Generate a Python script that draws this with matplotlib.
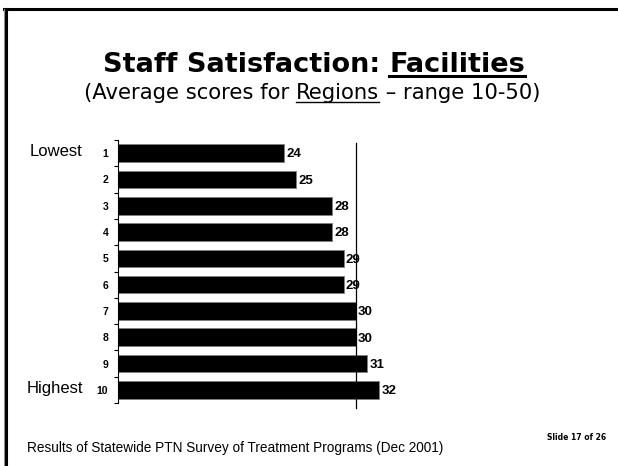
import matplotlib
matplotlib.use("Agg")
import matplotlib.pyplot as plt
from matplotlib.lines import Line2D
import numpy as np

# data
regions = ["1", "2", "3", "4", "5", "6", "7", "8", "9", "10"]
scores = [24, 25, 28, 28, 29, 29, 30, 30, 31, 32]
ref_score = 30
x_range = (10, 50)

W, H = 618, 466
fig = plt.figure(figsize=(W / 100, H / 100), dpi=100)

def fx(px):
    return px / W

def fy(py):
    return 1 - py / H

# slide frame (top and left edges)
fig.add_artist(Line2D([fx(4), 1], [fy(9), fy(9)], color="black", lw=2.2, transform=fig.transFigure))
fig.add_artist(Line2D([fx(5.5), fx(5.5)], [fy(9), 0], color="black", lw=2.2, transform=fig.transFigure))
fig.add_artist(Line2D([fx(3.8), fx(3.8)], [fy(9), 0], color="#909090", lw=0.8, transform=fig.transFigure))

renderer = fig.canvas.get_renderer()

def underlined(cx, base, parts, ul_off, ul_lw, **kw):
    # measure every piece, then lay them out left to right centred on cx
    widths = []
    for s, _ in parts:
        t = fig.text(0, 0, s, **kw)
        widths.append(t.get_window_extent(renderer).width)
        t.remove()
    x = cx - sum(widths) / 2
    for (s, ul), w in zip(parts, widths):
        fig.text(fx(x), fy(base), s, ha="left", va="baseline", **kw)
        if ul:
            fig.add_artist(Line2D([fx(x), fx(x + w)], [fy(base + ul_off)] * 2,
                                  color="black", lw=ul_lw, transform=fig.transFigure))
        x += w

underlined(314, 72, [("Staff Satisfaction: ", False), ("Facilities", True)],
           3.5, 2.2, fontsize=19.5, fontweight="bold", family="DejaVu Sans")
underlined(312, 99, [("(Average scores for ", False), ("Regions", True), (" \u2013 range 10-50)", False)],
           2.5, 1.0, fontsize=15.2, family="DejaVu Sans")

# bar chart
ax = fig.add_axes([fx(118), fy(403), fx(593) - fx(118), fy(140) - fy(403)])
y = np.arange(len(regions))
ax.barh(y, scores, height=0.67, color="black", edgecolor="#808080", linewidth=0.6)
ax.set_xlim(*x_range)
ax.set_ylim(len(regions) - 0.5, -0.5)
ax.axvline(ref_score, ymin=-0.02, ymax=0.99, color="black", lw=0.9, clip_on=False)

for i, v in enumerate(scores):
    ax.text(v + 0.2, i + 0.05, str(v), va="center", ha="left", fontsize=9.5,
            fontweight="bold", family="Liberation Sans")

ax.set_yticks(y)
ax.set_yticklabels(regions, fontsize=7.5, fontweight="bold", family="Liberation Sans")
ax.set_yticks(np.arange(-0.5, len(regions)), minor=True)
ax.tick_params(axis="y", which="major", length=0, pad=7)
ax.tick_params(axis="y", which="minor", length=3, width=0.8, color="black")
ax.set_xticks([])
for s in ["top", "right", "bottom"]:
    ax.spines[s].set_visible(False)
ax.spines["left"].set_linewidth(0.8)
ax.patch.set_alpha(0)

fig.text(fx(30), fy(152), "Lowest", fontsize=12, family="Liberation Sans", va="center", ha="left")
fig.text(fx(27), fy(388), "Highest", fontsize=12, family="Liberation Sans", va="center", ha="left")

fig.text(fx(27), fy(448), "Results of Statewide PTN Survey of Treatment Programs (Dec 2001)",
         fontsize=9.8, family="Liberation Sans", va="center", ha="left")
fig.text(fx(606), fy(437), "Slide 17 of 26", fontsize=5.5, fontweight="bold",
         family="DejaVu Sans", va="center", ha="right")

fig.savefig("out.png", dpi=100)
